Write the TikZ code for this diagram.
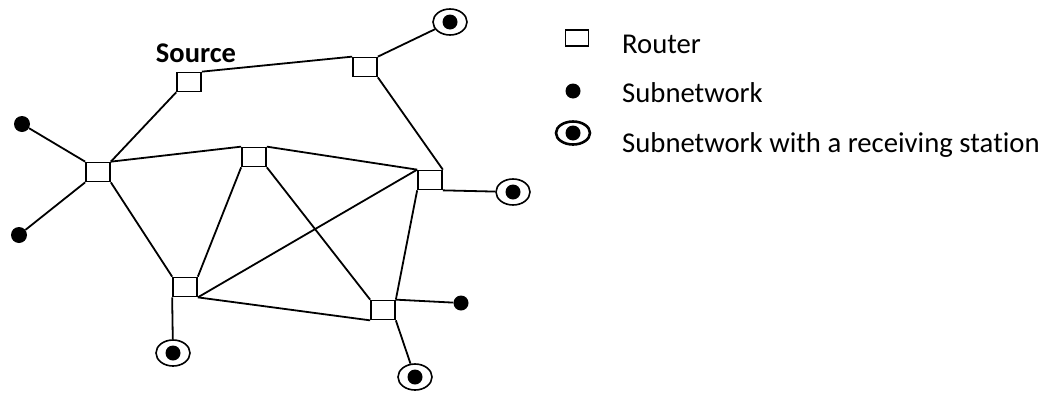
\documentclass[tikz,border=0pt]{standalone}
\usepackage{fontspec}
\setmainfont{Carlito}[RawFeature={-liga;-clig;-calt;-dlig}]
\usetikzlibrary{shapes.geometric}
\begin{document}
\begin{tikzpicture}[x=1pt,y=-1pt,
  router/.style={draw,rectangle,line width=1.7pt,minimum width=24pt,minimum height=19pt,inner sep=0pt,fill=white},
  subnet/.style={circle,fill=black,minimum size=16pt,inner sep=0pt},
  ring/.style={draw,ellipse,line width=1.6pt,minimum width=34pt,minimum height=26pt,inner sep=0pt,
    path picture={\fill (path picture bounding box.center) circle (7.5pt);}},
  link/.style={line width=1.8pt},
  legtext/.style={anchor=base west,font=\fontsize{28.7}{30}\selectfont,inner sep=0pt}]
\useasboundingbox (0,0) rectangle (1058,394);
% routers
\node[router] (src) at (189,82) {};
\node[router] (r2) at (365,67) {};
\node[router] (r3) at (98,172) {};
\node[router] (r4) at (254,157) {};
\node[router] (r5) at (430,180) {};
\node[router] (r6) at (185,287) {};
\node[router] (r7) at (383,310) {};
% subnetworks
\node[subnet] (d1) at (22,124) {};
\node[subnet] (d2) at (19,235) {};
\node[subnet,minimum size=15pt] (d3) at (461,303) {};
\node[ring] (c1) at (450,22) {};
\node[ring] (c2) at (513,192) {};
\node[ring] (c3) at (173,353) {};
\node[ring] (c4) at (415,377) {};
% label
\node[anchor=base,font=\fontsize{28.5}{30}\selectfont\bfseries,inner sep=0pt] (srclab) at (196,62) {Source};
% links
\begin{scope}[link]
\draw (src.north east) -- (r2.north west);
\draw (src.south west) -- (r3.north east);
\draw (r2.north east) -- (c1);
\draw (r2.south east) -- (r5.north east);
\draw (r3.north east) -- (r4.north west);
\draw (r4.north east) -- (r5.north west);
\draw (d1) -- (r3.north west);
\draw (r3.south west) -- (d2);
\draw (r3.south east) -- (r6.north west);
\draw (r4.south west) -- (r6.north east);
\draw (r4.south east) -- (r7.north west);
\draw (r6.south east) -- (r5.north west);
\draw (r6.south east) -- (r7.south west);
\draw (r5.south west) -- (r7.north east);
\draw (r5.south east) -- (c2);
\draw (r7.north east) -- (d3);
\draw (r7.south east) -- (c4);
\draw (r6.south west) -- (c3);
\end{scope}
% legend
\node[draw,rectangle,line width=1.5pt,minimum width=23pt,minimum height=16pt,inner sep=0pt] (lr) at (577,38) {};
\node[subnet,minimum size=15pt] (ld) at (573,91) {};
\node[ring,line width=2.6pt,minimum width=34pt,minimum height=23pt] (lc) at (573,133) {};
\node[legtext] (t1) at (622,53) {Router};
\node[legtext] (t2) at (622,102) {Subnetwork};
\node[legtext] (t3) at (622,152) {Subnetwork with a receiving sta\kern0pt tion};
\end{tikzpicture}
\end{document}
